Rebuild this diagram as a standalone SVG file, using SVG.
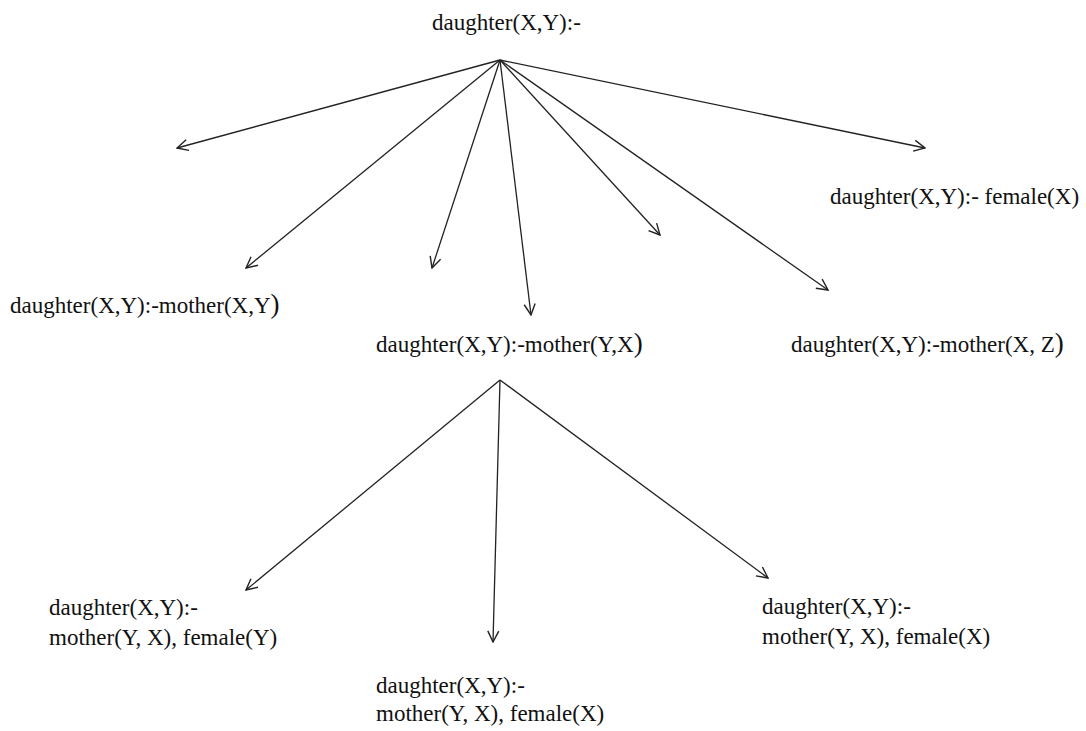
<svg xmlns="http://www.w3.org/2000/svg" width="1086" height="731" viewBox="0 0 1086 731">
<style>
text{font-family:"Liberation Serif","Times New Roman",serif;font-size:23px;fill:#111}
.p{font-size:27px}
.c line{stroke:#222;stroke-width:1.3;marker-end:url(#a)}
</style>
<defs>
<marker id="a" markerWidth="14" markerHeight="14" refX="13" refY="7" orient="auto" markerUnits="userSpaceOnUse">
<path d="M2,1.5 L13,7 L2,12.5" fill="none" stroke="#222" stroke-width="1.4"/>
</marker>
</defs>
<rect width="1086" height="731" fill="#fff"/>
<g class="c" id="connectors">
<line x1="500" y1="60" x2="177" y2="148"/>
<line x1="500" y1="60" x2="246" y2="268"/>
<line x1="500" y1="60" x2="432" y2="268"/>
<line x1="500" y1="60" x2="531" y2="315"/>
<line x1="500" y1="60" x2="660" y2="235"/>
<line x1="500" y1="60" x2="828" y2="290"/>
<line x1="500" y1="60" x2="925" y2="148"/>
<line x1="500" y1="380" x2="246" y2="590"/>
<line x1="500" y1="380" x2="493" y2="642"/>
<line x1="500" y1="380" x2="768" y2="578"/>
</g>
<g id="root"><text x="432" y="30">daughter(X,Y):-</text></g>
<g id="n1"><text x="10" y="313">daughter(X,Y):-mother(X,Y<tspan class="p">)</tspan></text></g>
<g id="n2"><text x="376" y="352">daughter(X,Y):-mother(Y,X<tspan class="p">)</tspan></text></g>
<g id="n3"><text x="791" y="352">daughter(X,Y):-mother(X, Z<tspan class="p">)</tspan></text></g>
<g id="n4"><text x="830" y="204">daughter(X,Y):- female(X)</text></g>
<g id="n5"><text x="49" y="615">daughter(X,Y):-</text><text x="49" y="645">mother(Y, X), female(Y)</text></g>
<g id="n6"><text x="376" y="693">daughter(X,Y):-</text><text x="376" y="721">mother(Y, X), female(X)</text></g>
<g id="n7"><text x="762" y="614">daughter(X,Y):-</text><text x="762" y="644">mother(Y, X), female(X)</text></g>
</svg>
